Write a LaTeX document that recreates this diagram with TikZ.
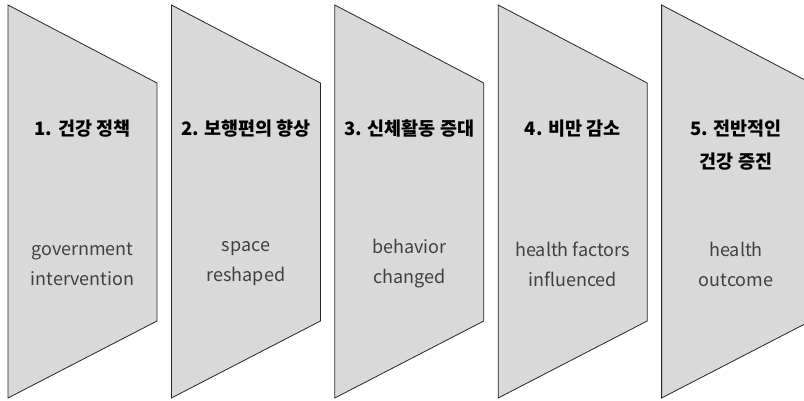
\documentclass[tikz,border=0pt]{standalone}
\usepackage{fontspec}
\setmainfont{Noto Sans CJK KR}
\usetikzlibrary{positioning}

\tikzset{
  stage/.style={draw=black!85, fill=black!15, line width=0.8pt, line join=miter},
  title/.style={font=\bfseries\fontsize{18.5}{33}\selectfont, align=center, text=black, anchor=north},
  effect/.style={font=\fontsize{18}{30}\selectfont, align=center, text=black!75},
}

\begin{document}
\begin{tikzpicture}[x=1pt,y=1pt]
\useasboundingbox (0,0) rectangle (804,401);
\clip (0,0) rectangle (804,401);
% five stages, each a funnel piece with a heading and an effect
\foreach \i/\kr/\en in {
  1/{1. 건강 정책}/{government\\intervention},
  2/{2. 보행편의 향상}/{space\\reshaped},
  3/{3. 신체활동 증대}/{behavior\\changed},
  4/{4. 비만 감소}/{health factors\\influenced},
  5/{5. 전반적인\\건강 증진}/{health\\outcome}}{
  \coordinate (p\i) at ({8+(\i-1)*163.4},0);
  \draw[stage] (p\i) ++(0,3) -- ++(0,393) -- ++(149,-78) -- ++(0,-238) -- cycle;
  \path (p\i) ++(74.5,285) node[title] (t\i) {\kr};
  \path (p\i) ++(74.5,137) node[effect] (e\i) {\en};
}
\end{tikzpicture}
\end{document}
